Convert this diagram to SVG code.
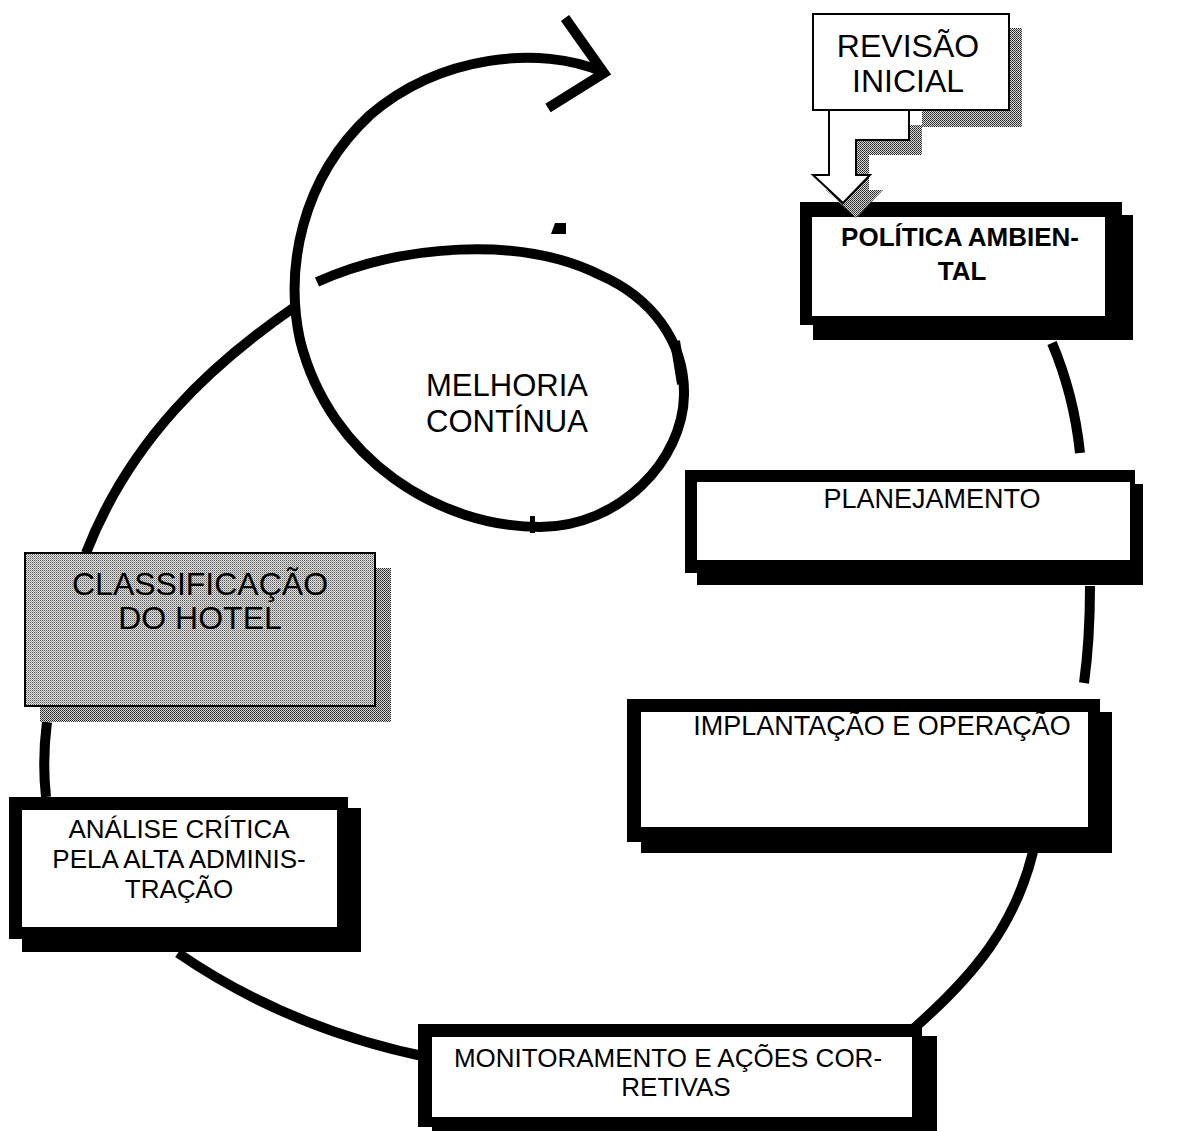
<svg xmlns="http://www.w3.org/2000/svg" width="1183" height="1131" viewBox="0 0 1183 1131">
  <defs>
    <!-- dithered greys -->
    <pattern id="dither-dark" width="2" height="2" patternUnits="userSpaceOnUse">
      <rect width="2" height="2" fill="#d8d8d8"/>
      <rect width="1" height="1" fill="#222"/>
      <rect x="1" y="1" width="1" height="1" fill="#444"/>
    </pattern>
    <pattern id="dither-light" width="2" height="2" patternUnits="userSpaceOnUse">
      <rect width="2" height="2" fill="#e4e4e4"/>
      <rect width="1" height="1" fill="#555"/>
      <rect x="1" y="1" width="1" height="1" fill="#9a9a9a"/>
    </pattern>
    <style>
      .shadow { fill: #000; }
      .frame { fill: #000; }
      .face { fill: #fff; }
      .grey-shadow { fill: url(#dither-dark); }
      .lbl { font-family: "Liberation Sans", Arial, Helvetica, sans-serif; font-size: 26px; text-anchor: middle; fill: #000; }
      .mid { font-size: 27px; }
      .big { font-size: 32px; }
      .bold { font-weight: bold; }
      .link { fill: none; stroke: #000; stroke-width: 10; stroke-linecap: butt; stroke-linejoin: miter; }
    </style>
  </defs>

  <rect width="1183" height="1131" fill="#fff"/>

  <!-- cycle connectors -->
  <g id="connectors">
    <path class="link" d="M1052,343 Q1074,395 1080,453"/>
    <path class="link" d="M1090,586 Q1090,640 1084,683"/>
    <path class="link" d="M1033,852 C1015,925 975,975 912,1030"/>
    <path class="link" d="M432,1058 Q290,1030 178,953"/>
    <path class="link" d="M47,722 Q42,760 46,797"/>
    <path class="link" d="M86,553 C130,440 210,365 296,306"/>
    <!-- improvement loop with open arrowhead -->
    <path class="link" d="M317,282 C400,245 520,235 600,275 C650,297 685,340 684,395 C683,460 620,527 540,527 C440,527 330,460 300,340 C285,270 300,180 370,115 C440,55 540,45 603,72"/>
    <path class="link" d="M675,341 L682,384"/>
    <rect x="530" y="516" width="5" height="17" fill="#000"/>
    <path class="link" d="M565,18 L604,73 L548,108"/>
    <polygon points="555,223 566,223 566,234 551,234" fill="#000"/>
  </g>

  <!-- environmental policy -->
  <g id="politica">
    <rect class="shadow" x="813" y="215" width="320" height="125"/>
    <rect class="frame" x="800" y="202" width="322" height="123"/>
    <rect class="face" x="812" y="217" width="293" height="99"/>
    <text class="lbl bold" x="960" y="246">POLÍTICA AMBIEN-</text>
    <text class="lbl bold" x="962" y="280">TAL</text>
  </g>

  <!-- initial review with stepped arrow -->
  <g id="revisao">
    <path class="grey-shadow" d="M922,110 H1022 V127 H922 Z M1009,28 H1022 V127 H1009 Z"/>
    <path class="grey-shadow" d="M842,125 H922 V155 H869 V190 H883 L856,218 L826,190 H842 Z"/>
    <path d="M829,110 H909 V140 H856 V175 H870 L843,203 L813,175 H829 Z" fill="#fff" stroke="#000" stroke-width="2"/>
    <rect x="813" y="14" width="196" height="96" fill="#fff" stroke="#000" stroke-width="2"/>
    <text class="lbl big" x="908" y="57">REVISÃO</text>
    <text class="lbl big" x="908" y="92">INICIAL</text>
  </g>

  <!-- planning -->
  <g id="planejamento">
    <rect class="shadow" x="697" y="484" width="446" height="101"/>
    <rect class="frame" x="685" y="470" width="450" height="103"/>
    <rect class="face" x="697" y="482" width="433" height="78"/>
    <text class="lbl mid" x="932" y="508">PLANEJAMENTO</text>
  </g>

  <!-- implementation and operation -->
  <g id="implantacao">
    <rect class="shadow" x="641" y="712" width="471" height="141"/>
    <rect class="frame" x="627" y="699" width="473" height="143"/>
    <rect class="face" x="641" y="712" width="447" height="115"/>
    <text class="lbl mid" x="882" y="735">IMPLANTAÇÃO E OPERAÇÃO</text>
  </g>

  <!-- monitoring and corrective actions -->
  <g id="monitoramento">
    <rect class="shadow" x="432" y="1036" width="505" height="95"/>
    <rect class="frame" x="418" y="1024" width="504" height="103"/>
    <rect class="face" x="432" y="1037" width="480" height="80"/>
    <text class="lbl" x="668" y="1067">MONITORAMENTO E AÇÕES COR-</text>
    <text class="lbl" x="676" y="1096">RETIVAS</text>
  </g>

  <!-- management review -->
  <g id="analise">
    <rect class="shadow" x="22" y="808" width="339" height="144"/>
    <rect class="frame" x="9" y="797" width="339" height="142"/>
    <rect class="face" x="22" y="810" width="315" height="117"/>
    <text class="lbl" x="179" y="838">ANÁLISE CRÍTICA</text>
    <text class="lbl" x="179" y="868">PELA ALTA ADMINIS-</text>
    <text class="lbl" x="179" y="898">TRAÇÃO</text>
  </g>

  <!-- hotel classification -->
  <g id="classificacao">
    <rect class="grey-shadow" x="40" y="568" width="351" height="154"/>
    <rect x="25" y="553" width="350" height="153" fill="url(#dither-light)" stroke="#000" stroke-width="2"/>
    <text class="lbl big" x="200" y="595">CLASSIFICAÇÃO</text>
    <text class="lbl big" x="200" y="629">DO HOTEL</text>
  </g>

  <!-- melhoria label inside the loop -->
  <text class="lbl" x="507" y="396" style="font-size:31px">MELHORIA</text>
  <text class="lbl" x="507" y="432" style="font-size:31px">CONTÍNUA</text>
</svg>
